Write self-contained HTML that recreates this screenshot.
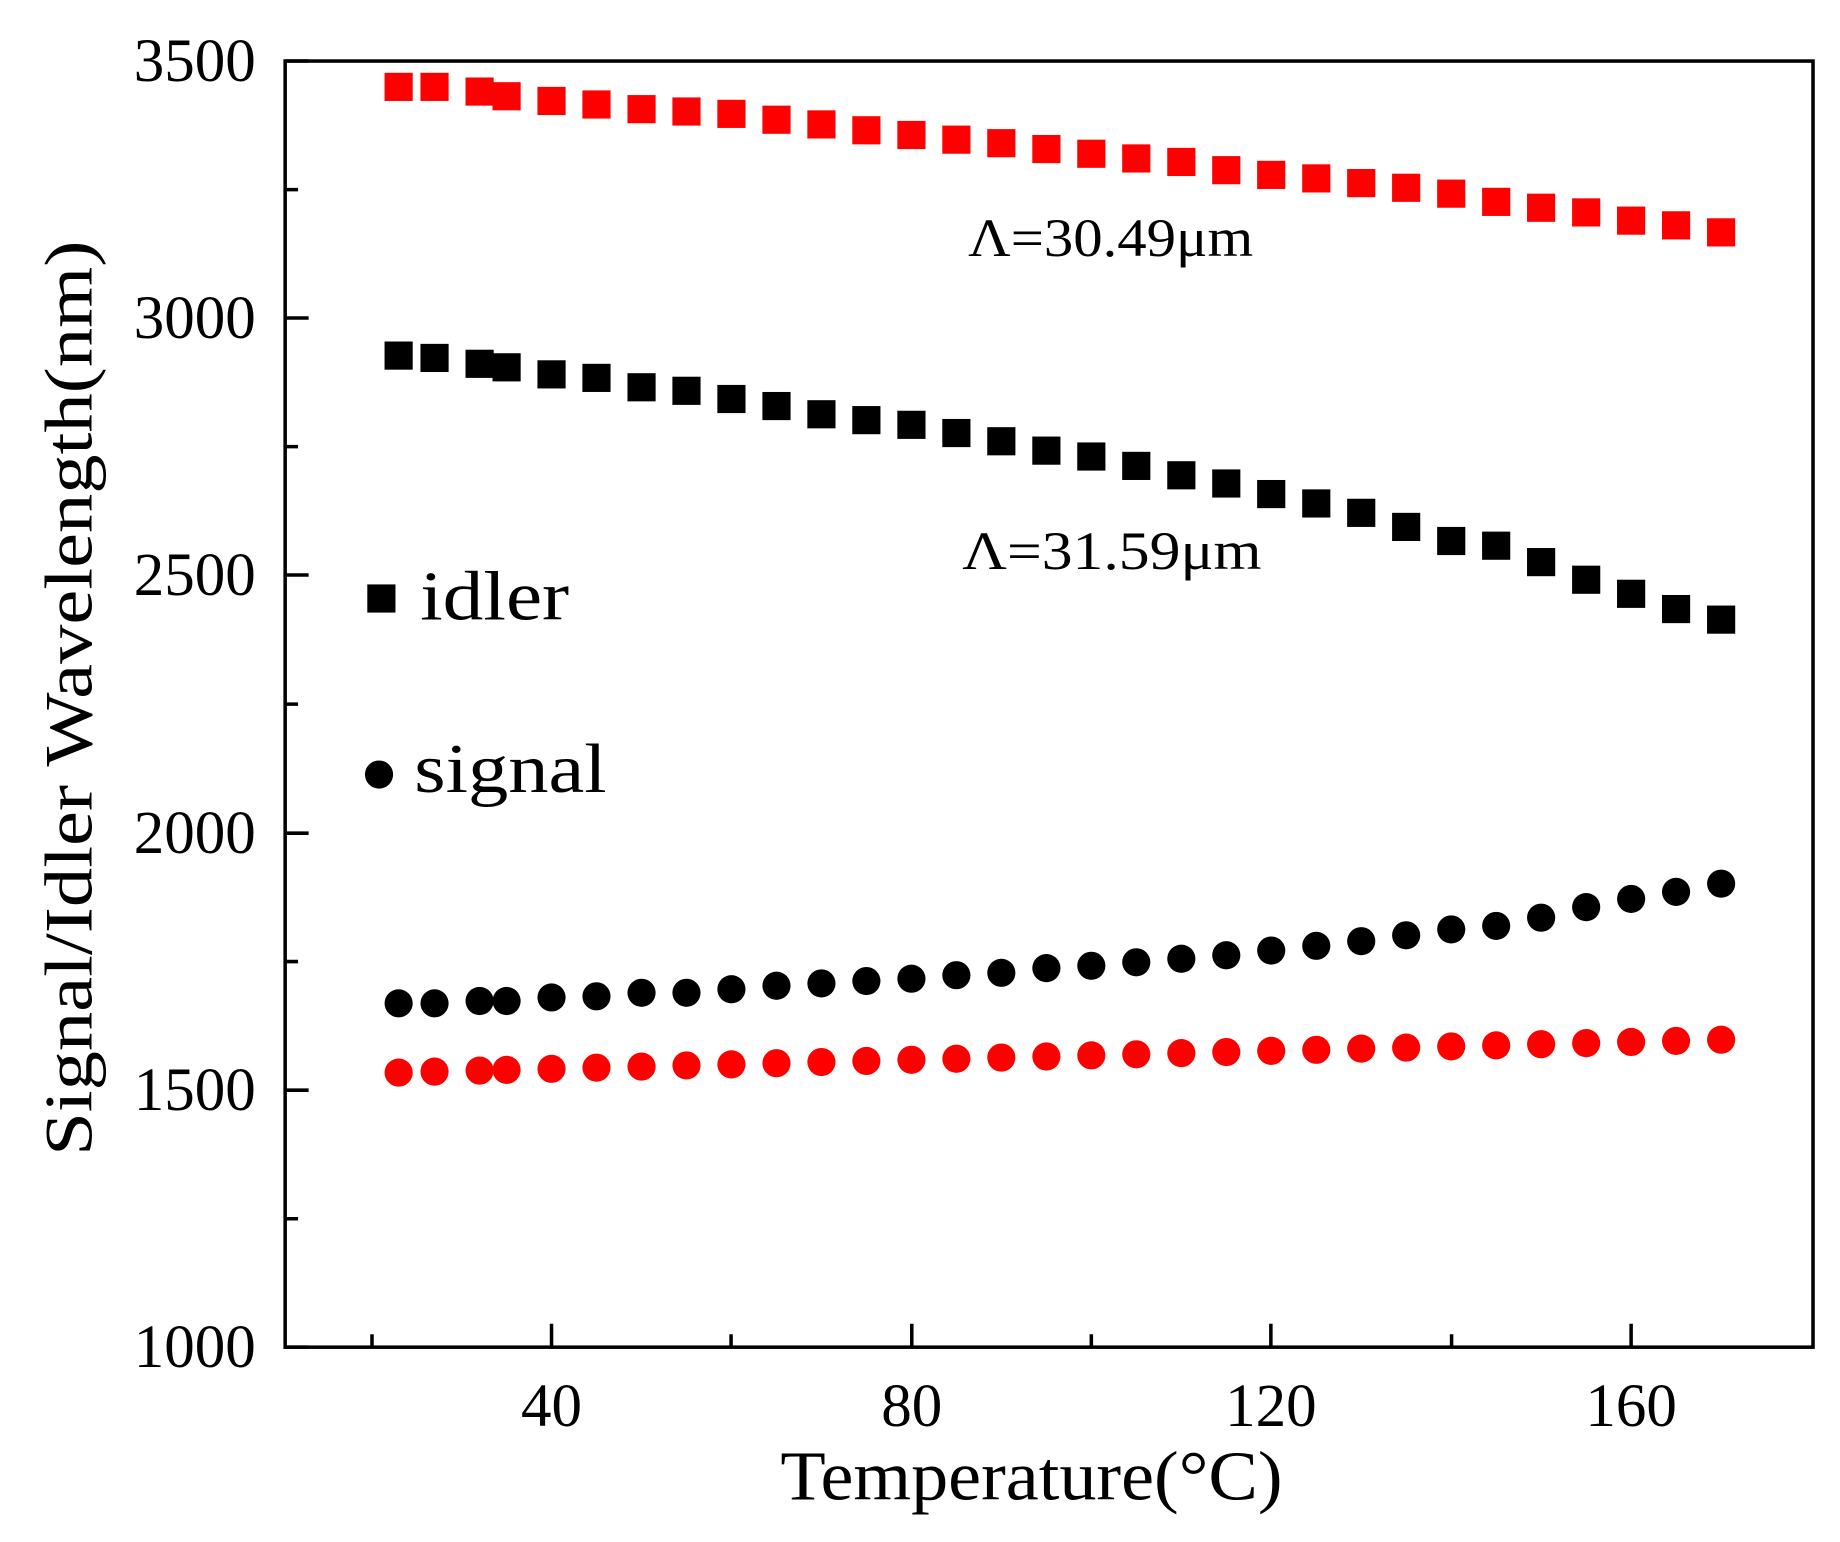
<!DOCTYPE html>
<html><head><style>html,body{margin:0;padding:0;background:#fff}svg{display:block}</style></head>
<body>
<svg width="1840" height="1542" viewBox="0 0 1568 1314" xmlns="http://www.w3.org/2000/svg" xmlns:xlink="http://www.w3.org/1999/xlink" font-family="Liberation Serif, serif">
<defs>
<rect id="rs" x="-12" y="-12" width="24" height="24" fill="#f00"/>
<rect id="bs" x="-12" y="-12" width="24" height="24" fill="#000"/>
<circle id="bc" r="12" fill="#000"/>
<circle id="rc" r="12" fill="#f00"/>
</defs>
<rect width="1568" height="1314" fill="#fff"/>
<g stroke="#000" stroke-width="3" fill="none">
<rect x="243" y="52" width="1302" height="1096"/>
<path d="M243 52h20M243 271h20M243 490h20M243 710h20M243 929h20M243 1148h20
M243 161.6h11M243 380.6h11M243 600h11M243 819.4h11M243 1038.6h11
M470 1148v-20M777 1148v-20M1083 1148v-20M1390 1148v-20
M317 1148v-11M623 1148v-11M930 1148v-11M1237 1148v-11"/>
</g>
<g font-size="52" text-anchor="end" fill="#000">
<text x="218" y="69">3500</text><text x="218" y="288">3000</text><text x="218" y="507">2500</text>
<text x="218" y="727">2000</text><text x="218" y="946">1500</text><text x="218" y="1165">1000</text>
</g>
<g font-size="52" text-anchor="middle" fill="#000">
<text x="470" y="1215">40</text><text x="777" y="1215">80</text><text x="1083" y="1215">120</text><text x="1390" y="1215">160</text>
</g>
<text x="665" y="1278" font-size="60" textLength="428" lengthAdjust="spacingAndGlyphs">Temperature(°C)</text>
<text transform="translate(78,985) rotate(-90)" font-size="58" textLength="780" lengthAdjust="spacingAndGlyphs">Signal/Idler Wavelength(nm)</text>
<text x="825" y="218" font-size="46" textLength="243" lengthAdjust="spacingAndGlyphs">Λ=30.49μm</text>
<text x="820" y="485" font-size="46" textLength="255" lengthAdjust="spacingAndGlyphs">Λ=31.59μm</text>
<rect x="313" y="498" width="24" height="24" fill="#000"/>
<text x="358" y="528" font-size="60" textLength="127" lengthAdjust="spacingAndGlyphs">idler</text>
<circle cx="323" cy="660" r="12" fill="#000"/>
<text x="353" y="675" font-size="60" textLength="164" lengthAdjust="spacingAndGlyphs">signal</text>

<g fill="#f00">
<rect x="327.7" y="62" width="24" height="24"/><rect x="358.3" y="62" width="24" height="24"/><rect x="396.7" y="66" width="24" height="24"/><rect x="419.7" y="70" width="24" height="24"/><rect x="458" y="74" width="24" height="24"/><rect x="496.3" y="77" width="24" height="24"/><rect x="534.7" y="81" width="24" height="24"/><rect x="573" y="83" width="24" height="24"/><rect x="611.3" y="85" width="24" height="24"/><rect x="649.7" y="90" width="24" height="24"/><rect x="688" y="94" width="24" height="24"/><rect x="726.3" y="99" width="24" height="24"/><rect x="764.7" y="103" width="24" height="24"/><rect x="803" y="107" width="24" height="24"/><rect x="841.3" y="110" width="24" height="24"/><rect x="879.7" y="115" width="24" height="24"/><rect x="918" y="119" width="24" height="24"/><rect x="956.3" y="123" width="24" height="24"/><rect x="994.7" y="126" width="24" height="24"/><rect x="1033" y="133" width="24" height="24"/><rect x="1071.3" y="137" width="24" height="24"/><rect x="1109.7" y="140" width="24" height="24"/><rect x="1148" y="144" width="24" height="24"/><rect x="1186.3" y="148" width="24" height="24"/><rect x="1224.7" y="153" width="24" height="24"/><rect x="1263" y="160" width="24" height="24"/><rect x="1301.3" y="165" width="24" height="24"/><rect x="1339.7" y="169" width="24" height="24"/><rect x="1378" y="176" width="24" height="24"/><rect x="1416.3" y="180" width="24" height="24"/><rect x="1454.7" y="186" width="24" height="24"/>
</g>
<g fill="#000">
<rect x="327.7" y="291" width="24" height="24"/><rect x="358.3" y="293" width="24" height="24"/><rect x="396.7" y="298" width="24" height="24"/><rect x="419.7" y="301" width="24" height="24"/><rect x="458" y="307" width="24" height="24"/><rect x="496.3" y="310" width="24" height="24"/><rect x="534.7" y="318" width="24" height="24"/><rect x="573" y="321" width="24" height="24"/><rect x="611.3" y="328" width="24" height="24"/><rect x="649.7" y="334" width="24" height="24"/><rect x="688" y="341" width="24" height="24"/><rect x="726.3" y="346" width="24" height="24"/><rect x="764.7" y="350" width="24" height="24"/><rect x="803" y="357" width="24" height="24"/><rect x="841.3" y="364" width="24" height="24"/><rect x="879.7" y="372" width="24" height="24"/><rect x="918" y="377" width="24" height="24"/><rect x="956.3" y="385" width="24" height="24"/><rect x="994.7" y="393" width="24" height="24"/><rect x="1033" y="400" width="24" height="24"/><rect x="1071.3" y="409" width="24" height="24"/><rect x="1109.7" y="417" width="24" height="24"/><rect x="1148" y="425" width="24" height="24"/><rect x="1186.3" y="437" width="24" height="24"/><rect x="1224.7" y="449" width="24" height="24"/><rect x="1263" y="453" width="24" height="24"/><rect x="1301.3" y="467" width="24" height="24"/><rect x="1339.7" y="482" width="24" height="24"/><rect x="1378" y="494" width="24" height="24"/><rect x="1416.3" y="507" width="24" height="24"/><rect x="1454.7" y="516" width="24" height="24"/>
</g>
<g fill="#000">
<circle cx="339.7" cy="855" r="12"/><circle cx="370.3" cy="855" r="12"/><circle cx="408.7" cy="853" r="12"/><circle cx="431.7" cy="853" r="12"/><circle cx="470" cy="850" r="12"/><circle cx="508.3" cy="849" r="12"/><circle cx="546.7" cy="846" r="12"/><circle cx="585" cy="846" r="12"/><circle cx="623.3" cy="843" r="12"/><circle cx="661.7" cy="840" r="12"/><circle cx="700" cy="838" r="12"/><circle cx="738.3" cy="836" r="12"/><circle cx="776.7" cy="834" r="12"/><circle cx="815" cy="831" r="12"/><circle cx="853.3" cy="829" r="12"/><circle cx="891.7" cy="825" r="12"/><circle cx="930" cy="823" r="12"/><circle cx="968.3" cy="820" r="12"/><circle cx="1006.7" cy="817" r="12"/><circle cx="1045" cy="814" r="12"/><circle cx="1083.3" cy="810" r="12"/><circle cx="1121.7" cy="806" r="12"/><circle cx="1160" cy="802" r="12"/><circle cx="1198.3" cy="797" r="12"/><circle cx="1236.7" cy="792" r="12"/><circle cx="1275" cy="789" r="12"/><circle cx="1313.3" cy="782" r="12"/><circle cx="1351.7" cy="773" r="12"/><circle cx="1390" cy="766" r="12"/><circle cx="1428.3" cy="760" r="12"/><circle cx="1466.7" cy="753" r="12"/>
</g>
<g fill="#f00">
<circle cx="339.7" cy="914" r="12"/><circle cx="370.3" cy="913.2" r="12"/><circle cx="408.7" cy="912.3" r="12"/><circle cx="431.7" cy="911.7" r="12"/><circle cx="470" cy="910.8" r="12"/><circle cx="508.3" cy="909.8" r="12"/><circle cx="546.7" cy="908.9" r="12"/><circle cx="585" cy="907.9" r="12"/><circle cx="623.3" cy="907" r="12"/><circle cx="661.7" cy="906" r="12"/><circle cx="700" cy="905" r="12"/><circle cx="738.3" cy="904.1" r="12"/><circle cx="776.7" cy="903.1" r="12"/><circle cx="815" cy="902.2" r="12"/><circle cx="853.3" cy="901.2" r="12"/><circle cx="891.7" cy="900.3" r="12"/><circle cx="930" cy="899.3" r="12"/><circle cx="968.3" cy="898.4" r="12"/><circle cx="1006.7" cy="897.4" r="12"/><circle cx="1045" cy="896.5" r="12"/><circle cx="1083.3" cy="895.5" r="12"/><circle cx="1121.7" cy="894.6" r="12"/><circle cx="1160" cy="893.6" r="12"/><circle cx="1198.3" cy="892.7" r="12"/><circle cx="1236.7" cy="891.7" r="12"/><circle cx="1275" cy="890.8" r="12"/><circle cx="1313.3" cy="889.8" r="12"/><circle cx="1351.7" cy="888.9" r="12"/><circle cx="1390" cy="887.9" r="12"/><circle cx="1428.3" cy="887" r="12"/><circle cx="1466.7" cy="886" r="12"/>
</g>
</svg>
</body></html>
